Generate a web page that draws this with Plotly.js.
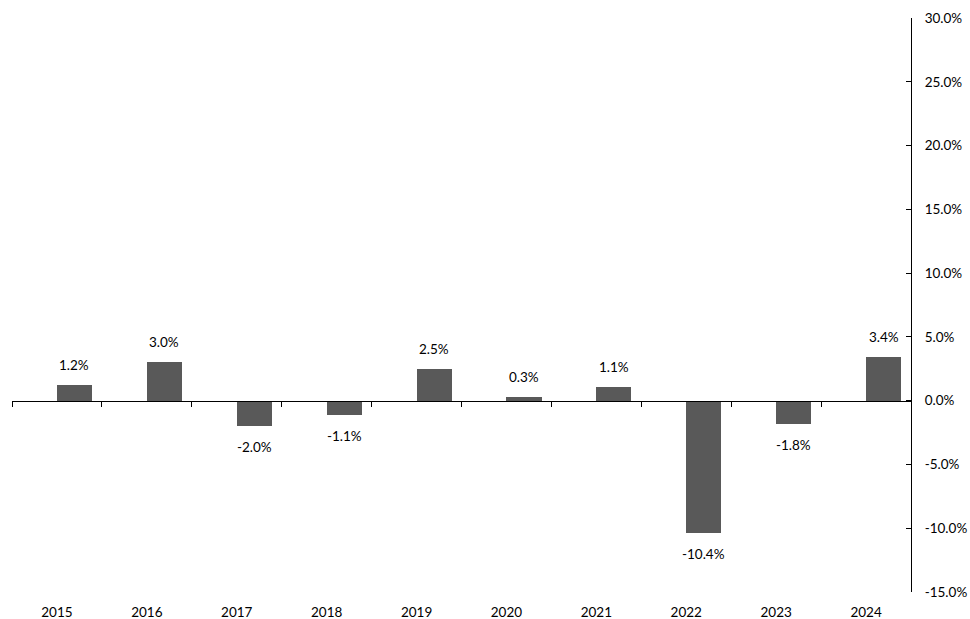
<!DOCTYPE html>
<html>
<head>
<meta charset="utf-8">
<script src="https://cdn.plot.ly/plotly-3.0.1.min.js"></script>
<style>
  html, body { margin: 0; padding: 0; background: #fff; }
  #chart { width: 970px; height: 619px; }
</style>
</head>
<body>
<div id="chart"></div>
<script>
// Annual returns, in percent
const years = ['2015', '2016', '2017', '2018', '2019', '2020', '2021', '2022', '2023', '2024'];
const returns = [1.2, 3.0, -2.0, -1.1, 2.5, 0.3, 1.1, -10.4, -1.8, 3.4];
const labels = ['1.2%', '3.0%', '-2.0%', '-1.1%', '2.5%', '0.3%', '1.1%', '-10.4%', '-1.8%', '3.4%'];

// Right-hand value axis
const yTicks = [-15, -10, -5, 0, 5, 10, 15, 20, 25, 30];
const yTickText = ['-15.0%', '-10.0%', '-5.0%', '0.0%', '5.0%', '10.0%', '15.0%', '20.0%', '25.0%', '30.0%'];

const FONT = 'Lato, "Open Sans", sans-serif';
const BAR_W = 0.39;

const bars = {
  type: 'bar',
  x: years,
  y: returns,
  offset: 0,
  width: BAR_W,
  marker: { color: '#595959', line: { width: 0 } },
  hoverinfo: 'skip'
};

// invisible helper so the zero-line axis is drawn
const helper = {
  type: 'scatter', mode: 'none',
  x: [-0.5, 9.5], y: [0, 0],
  xaxis: 'x2', yaxis: 'y',
  hoverinfo: 'skip', showlegend: false
};

const annotations = returns.map((v, i) => ({
  x: i + BAR_W / 2,
  y: v,
  xref: 'x', yref: 'y',
  text: labels[i],
  showarrow: false,
  yanchor: 'middle',
  yshift: v >= 0 ? 20 : -21,
  font: { family: FONT, size: 13.5, color: '#000' }
}));

const layout = {
  width: 970, height: 619,
  margin: { l: 12, r: 59, t: 18, b: 27 },
  paper_bgcolor: '#fff', plot_bgcolor: '#fff',
  showlegend: false,
  bargap: 0,
  font: { family: FONT, size: 13.5, color: '#000' },
  xaxis: {
    type: 'category',
    range: [-0.5, 9.5],
    showline: false, showgrid: false, zeroline: false,
    ticks: '',
    ticklabelstandoff: 10,
    tickfont: { family: FONT, size: 13.5, color: '#000' },
    fixedrange: true
  },
  // category boundary ticks along the zero line
  xaxis2: {
    overlaying: 'x',
    anchor: 'free',
    position: 1 / 3,
    range: [-0.5, 9.5],
    tick0: -0.5, dtick: 1,
    ticks: 'outside', ticklen: 5, tickwidth: 1, tickcolor: '#000',
    showline: true, linecolor: '#000', linewidth: 1,
    showgrid: false, zeroline: false,
    showticklabels: false,
    fixedrange: true
  },
  yaxis: {
    side: 'right',
    range: [-15, 30],
    tickvals: yTicks,
    ticktext: yTickText,
    ticks: 'inside', ticklen: 5, tickwidth: 1, tickcolor: '#000',
    showline: true, linecolor: '#000', linewidth: 1,
    showgrid: false, zeroline: false,
    ticklabelstandoff: 10,
    tickfont: { family: FONT, size: 13.5, color: '#000' },
    fixedrange: true
  },
  annotations: annotations
};

Plotly.newPlot('chart', [bars, helper], layout, { displayModeBar: false, staticPlot: true });
</script>
</body>
</html>
